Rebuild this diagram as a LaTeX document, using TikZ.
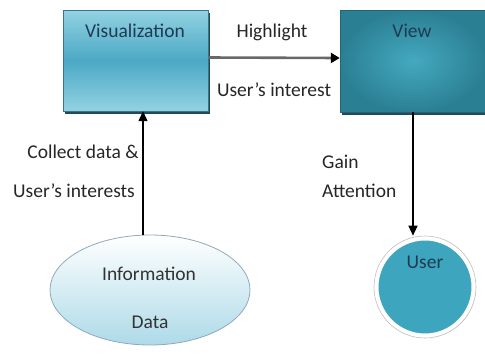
\documentclass[tikz,border=0pt]{standalone}
\usepackage{fontspec}
\setmainfont{Carlito}
\usetikzlibrary{arrows.meta,shapes.geometric,shadows}
\definecolor{boxtext}{HTML}{1E3B52}
\definecolor{vizlight}{HTML}{93D2E2}
\definecolor{vizmid}{HTML}{4BA8C5}
\definecolor{viewedge}{HTML}{2B7F93}
\definecolor{viewcore}{HTML}{44A9BF}
\definecolor{boxshadow}{HTML}{24495A}
\definecolor{infobottom}{HTML}{ADDAE8}
\definecolor{infoline}{HTML}{8FA9B8}
\definecolor{userfill}{HTML}{3EA5BE}
\definecolor{flowgray}{HTML}{686868}
\begin{document}
\begin{tikzpicture}[x=1pt,y=-1pt,
  txt/.style={font=\fontsize{19.5}{23}\selectfont, text=black!85, inner sep=0pt, anchor=base},
  intxt/.style={txt, text=boxtext},
  boxshade/.style={drop shadow={shadow xshift=2pt, shadow yshift=-3pt, fill=boxshadow, opacity=1}},
  conn/.style={draw=black, line width=1.3pt, -{Triangle[length=10pt,width=9pt]}},
  hlconn/.style={draw=flowgray, line width=2.6pt, -{Triangle[length=9pt,width=10pt,fill=black,color=black]}}
]
\useasboundingbox (0,0) rectangle (485,354);

% boxes
\node[boxshade, rectangle, minimum width=145pt, minimum height=101pt, inner sep=0pt,
  top color=vizlight, bottom color=vizlight, middle color=vizmid,
  draw=vizmid!70!black, line width=0.4pt] (viz) at (135.5,60.5) {};
\node[boxshade, rectangle, minimum width=146pt, minimum height=102pt, inner sep=0pt,
  inner color=viewcore, outer color=viewedge, shading=radial,
  draw=viewedge!80!black, line width=0.4pt] (view) at (413,61) {};

% ellipse and circle
\node[ellipse, minimum width=200pt, minimum height=110pt, inner sep=0pt,
  top color=white, bottom color=infobottom, draw=infoline, line width=0.8pt] (info) at (150,290) {};
\node[circle, minimum size=97pt, inner sep=0pt, fill=userfill, draw=white, line width=4pt,
  drop shadow={shadow xshift=1.5pt, shadow yshift=-1.5pt, fill=black, opacity=0.25}] (user) at (425,287) {};
\node[circle, minimum size=102pt, inner sep=0pt, draw=black!25, line width=0.6pt] (userrim) at (user.center) {};

% texts inside shapes
\node[intxt] (viztxt) at (135,37) {Visualization};
\node[intxt] (viewtxt) at (412,37) {View};
\node[txt, text=black!80] (infotxt) at (149,280) {Information};
\node[txt, text=black!80] (datatxt) at (150,328) {Data};
\node[intxt] (usertxt) at (425,268) {User};

% connector labels
\node[txt] (hl) at (272,37) {Highlight};
\node[txt] (ui) at (274,96) {User’s interest};
\node[txt] (cd) at (83,158) {Collect data \&};
\node[txt] (uis) at (74,197) {User’s interests};
\node[txt, anchor=base west] (gain) at (322,168) {Gain};
\node[txt, anchor=base west] (att) at (322,197) {Attention};

% connectors
\draw[hlconn] ([yshift=3pt]viz.east) -- ([yshift=3pt]view.west);
\coordinate (upx) at ([xshift=7.5pt]viz.south);
\draw[conn] (info.north -| upx) -- (upx);
\draw[conn] (view.south) -- (view.south |- userrim.north);
\end{tikzpicture}
\end{document}
